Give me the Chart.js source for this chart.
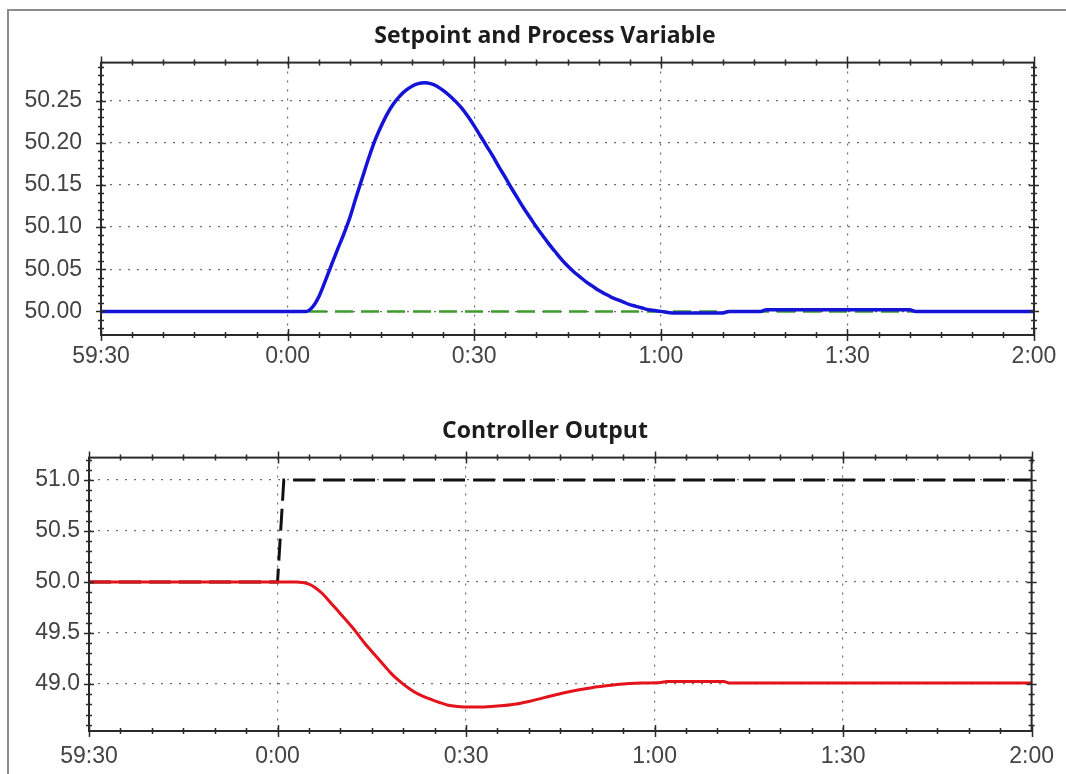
<!DOCTYPE html>
<html>
<head>
<meta charset="utf-8">
<title>PID response</title>
<script src="https://cdn.jsdelivr.net/npm/chart.js@4.4.1/dist/chart.umd.min.js"></script>
<style>
  html, body { margin: 0; padding: 0; background: #fff; }
  body { width: 1066px; height: 774px; position: relative; overflow: hidden; }
  .frame { position: absolute; left: 7px; top: 9px; width: 1100px; height: 800px;
           border-top: 2px solid #8c8c8c; border-left: 2px solid #8c8c8c; }
  .panel { position: absolute; left: 0; width: 1066px; height: 387px; }
  #pv-panel { top: 0; }
  #co-panel { top: 387px; }
</style>
</head>
<body>
<div class="frame"></div>
<div class="panel" id="pv-panel"><canvas id="pv-chart" width="1066" height="387"></canvas></div>
<div class="panel" id="co-panel"><canvas id="co-chart" width="1066" height="387"></canvas></div>

<script>
// time axis, in seconds relative to the step
const timeTicks = [-30, 0, 30, 60, 90, 120];
const timeTickLabels = ['59:30', '0:00', '0:30', '1:00', '1:30', '2:00'];

// process variable (blue)
const pvSeconds = [-30, 0, 3, 4, 5, 6, 7, 8, 9, 10, 11, 12, 13, 14, 15, 16, 17, 18, 19, 20,
  21, 22, 23, 24, 25, 26, 27, 28, 29, 30, 31, 32, 33, 34, 35, 36, 37, 38, 39, 40,
  41, 42, 43, 44, 45, 46, 47, 48, 49, 50, 51, 52, 53, 54, 55, 56, 57, 58, 59, 60,
  62, 70, 71, 76, 77, 100, 101, 120];
const pvValues = [50.000, 50.000, 50.000, 50.005, 50.017, 50.035, 50.054, 50.073, 50.091, 50.111,
  50.135, 50.158, 50.181, 50.202, 50.219, 50.234, 50.246, 50.255, 50.262, 50.267,
  50.270, 50.271, 50.270, 50.267, 50.262, 50.256, 50.249, 50.241, 50.231, 50.220,
  50.208, 50.196, 50.184, 50.171, 50.159, 50.146, 50.134, 50.122, 50.111, 50.100,
  50.090, 50.080, 50.071, 50.062, 50.054, 50.047, 50.041, 50.035, 50.030, 50.025,
  50.021, 50.017, 50.014, 50.011, 50.008, 50.006, 50.004, 50.002, 50.001, 50.000,
  49.998, 49.998, 50.000, 50.000, 50.002, 50.002, 50.000, 50.000];

// setpoint (green dashed)
const spSeconds = [-30, 120];
const spValues = [50.00, 50.00];

// controller output (red)
const coSeconds = [-30, 0, 3, 4, 5, 6, 7, 8, 9, 10, 11, 12, 13, 14, 15, 16, 17, 18, 19, 20,
  21, 22, 23, 24, 25, 26, 27, 28, 30, 32, 34, 36, 38, 40, 42, 44, 46, 48, 50,
  52, 54, 56, 58, 61, 62, 71, 72, 120];
const coValues = [50.00, 50.00, 50.00, 49.995, 49.98, 49.945, 49.895, 49.83, 49.76, 49.69,
  49.62, 49.55, 49.47, 49.39, 49.32, 49.25, 49.18, 49.11, 49.05, 49.00,
  48.955, 48.915, 48.885, 48.86, 48.835, 48.815, 48.795, 48.785, 48.775, 48.775,
  48.78, 48.79, 48.805, 48.83, 48.86, 48.89, 48.92, 48.945, 48.965,
  48.98, 48.995, 49.005, 49.01, 49.015, 49.025, 49.025, 49.01, 49.01];

// load step (black dashed)
const stepSeconds = [-30, 0, 1, 120];
const stepValues = [50.0, 50.0, 51.0, 51.0];

const pvYTicks = [50.00, 50.05, 50.10, 50.15, 50.20, 50.25];
const coYTicks = [49.0, 49.5, 50.0, 50.5, 51.0];

function points(xs, ys) {
  return xs.map((x, i) => ({ x: x, y: ys[i] }));
}

function timeLabel(v) {
  const i = timeTicks.indexOf(v);
  return i >= 0 ? timeTickLabels[i] : '';
}

// box around the plot area with small ticks on all four sides,
// and the title box narrowed so the heading sits a bit left of the plot centre
const frameTicks = {
  id: 'frameTicks',
  afterLayout(chart, args, opts) {
    if (chart.titleBlock) chart.titleBlock.left = opts.titleLeft;
  },
  afterDatasetsDraw(chart, args, opts) {
    const { ctx, chartArea: a, scales: { x, y } } = chart;
    ctx.save();
    ctx.strokeStyle = '#2a2a2a';
    ctx.lineWidth = 1.5;
    ctx.beginPath();
    for (let k = 0; k <= 30; k++) {
      const s = x.min + k * 5;
      const px = Math.round(x.getPixelForValue(s)) + 0.5;
      const len = s % 30 === 0 ? 6 : 3;
      ctx.moveTo(px, a.bottom - len); ctx.lineTo(px, a.bottom + len);
      ctx.moveTo(px, a.top - len); ctx.lineTo(px, a.top + len);
    }
    const first = Math.ceil(y.min / opts.minor - 1e-6);
    const last = Math.floor(y.max / opts.minor + 1e-6);
    for (let k = first; k <= last; k++) {
      const v = k * opts.minor;
      const py = Math.round(y.getPixelForValue(v)) + 0.5;
      const r = v / opts.major;
      const len = Math.abs(r - Math.round(r)) < 1e-6 ? 5 : 3;
      ctx.moveTo(a.left - len, py); ctx.lineTo(a.left + len, py);
      ctx.moveTo(a.right - len, py); ctx.lineTo(a.right + len, py);
    }
    ctx.stroke();
    ctx.lineWidth = 2;
    ctx.strokeRect(a.left, a.top, a.width, a.height);
    ctx.restore();
  }
};

const tickFont = { family: '"Liberation Sans", Arial, sans-serif', size: 23 };
const titleFont = { family: '"Open Sans", "Liberation Sans", sans-serif', size: 23, weight: 'bold' };

function makeOptions(cfg) {
  return {
    responsive: false,
    animation: false,
    events: [],
    layout: { padding: { left: 0, right: 32, top: 0, bottom: 0 } },
    plugins: {
      legend: { display: false },
      tooltip: { enabled: false },
      title: {
        display: true,
        text: cfg.title,
        color: '#1c1c1c',
        font: titleFont,
        padding: { top: cfg.titleTop, bottom: cfg.titleBottom }
      },
      frameTicks: { minor: cfg.minor, major: cfg.major, titleLeft: 56 }
    },
    scales: {
      x: {
        type: 'linear',
        min: -30,
        max: 120,
        afterBuildTicks: s => { s.ticks = timeTicks.map(v => ({ value: v })); },
        afterFit: s => { s.height = cfg.xHeight; },
        ticks: {
          autoSkip: false,
          maxRotation: 0,
          padding: cfg.xPad,
          color: '#434343',
          font: tickFont,
          callback: v => timeLabel(v)
        },
        grid: { color: '#6f6f6f', lineWidth: 1.2, drawTicks: false },
        border: { display: false, dash: [2, 7] }
      },
      y: {
        min: cfg.yMin,
        max: cfg.yMax,
        afterBuildTicks: s => { s.ticks = cfg.yTicks.map(v => ({ value: v })); },
        afterFit: s => { s.width = cfg.yWidth; },
        ticks: {
          padding: cfg.yPad,
          color: '#434343',
          font: tickFont,
          callback: v => v.toFixed(cfg.digits)
        },
        grid: { color: '#6f6f6f', lineWidth: 1.2, drawTicks: false },
        border: { display: false, dash: [2, 7] }
      }
    }
  };
}

new Chart(document.getElementById('pv-chart'), {
  type: 'line',
  data: {
    datasets: [
      {
        label: 'Process Variable',
        data: points(pvSeconds, pvValues),
        borderColor: '#1414d8',
        borderWidth: 3.5,
        pointRadius: 0,
        cubicInterpolationMode: 'monotone'
      },
      {
        label: 'Setpoint',
        data: points(spSeconds, spValues),
        borderColor: '#3f9a2c',
        borderWidth: 2.5,
        borderDash: [18, 8],
        pointRadius: 0,
        tension: 0
      }
    ]
  },
  options: makeOptions({
    title: 'Setpoint and Process Variable',
    titleTop: 23, titleBottom: 12,
    yMin: 49.972, yMax: 50.295, yTicks: pvYTicks, digits: 2,
    yWidth: 101, yPad: 19, minor: 0.01, major: 0.05,
    xHeight: 52, xPad: 8
  }),
  plugins: [frameTicks]
});

new Chart(document.getElementById('co-chart'), {
  type: 'line',
  data: {
    datasets: [
      {
        label: 'Controller Output',
        data: points(coSeconds, coValues),
        borderColor: '#e3121b',
        borderWidth: 3,
        pointRadius: 0,
        cubicInterpolationMode: 'monotone'
      },
      {
        label: 'Load',
        data: points(stepSeconds, stepValues),
        borderColor: '#111111',
        borderWidth: 3,
        borderDash: [22, 8],
        pointRadius: 0,
        tension: 0
      }
    ]
  },
  options: makeOptions({
    title: 'Controller Output',
    titleTop: 31, titleBottom: 12,
    yMin: 48.54, yMax: 51.22, yTicks: coYTicks, digits: 1,
    yWidth: 89, yPad: 9, minor: 0.1, major: 0.5,
    xHeight: 43, xPad: 12
  }),
  plugins: [frameTicks]
});
</script>
</body>
</html>
